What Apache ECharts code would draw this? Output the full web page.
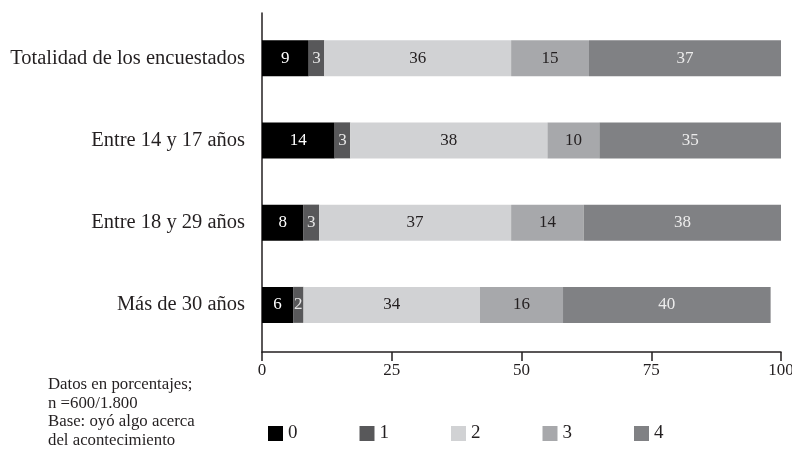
<!DOCTYPE html>
<html>
<head>
<meta charset="utf-8">
<script src="https://cdn.jsdelivr.net/npm/echarts@6/dist/echarts.min.js"></script>
<style>
  html, body { margin: 0; padding: 0; background: #fff; }
  #chart { width: 792px; height: 459px; }
  .note { position: absolute; left: 48px; top: 375px; font-family: 'Liberation Serif', 'DejaVu Serif', serif;
          font-size: 16.8px; line-height: 18.5px; color: #231f20; }
</style>
</head>
<body>
<div id="chart"></div>
<script>
// Age groups, top to bottom
const categories = ['Totalidad de los encuestados', 'Entre 14 y 17 años', 'Entre 18 y 29 años', 'Más de 30 años'];
// Answer levels shown in the legend
const levels = ['0', '1', '2', '3', '4'];
// Percentages per level, one value per age group
const level0 = [9, 14, 8, 6];
const level1 = [3, 3, 3, 2];
const level2 = [36, 38, 37, 34];
const level3 = [15, 10, 14, 16];
const level4 = [37, 35, 38, 40];
const xTicks = [0, 25, 50, 75, 100];

const seriesValues = [level0, level1, level2, level3, level4];
const fills = ['#000000', '#58585a', '#d1d2d4', '#a7a8ab', '#808184'];
const labelColors = ['#ffffff', '#e6e6e6', '#231f20', '#231f20', '#ececec'];
const FONT = '"Liberation Serif", "DejaVu Serif", serif';
const INK = '#231f20';

const chart = echarts.init(document.getElementById('chart'), null, { renderer: 'canvas' });

chart.setOption({
  animation: false,
  backgroundColor: '#ffffff',
  textStyle: { fontFamily: FONT },
  // grid 0 carries the axis frame, grid 1 the bars and category labels
  grid: [
    { left: 262, right: 11, top: 13, bottom: 107, outerBoundsMode: 'none', containLabel: false },
    { left: 262, right: 11, top: 17, bottom: 113, outerBoundsMode: 'none', containLabel: false }
  ],
  legend: {
    data: levels,
    left: 268,
    top: 424,
    padding: 0,
    itemWidth: 15,
    itemHeight: 15,
    itemGap: 62,
    icon: 'rect',
    textStyle: { fontFamily: FONT, fontSize: 19, color: INK }
  },
  xAxis: [
    {
      gridIndex: 0,
      type: 'value',
      min: 0,
      max: 100,
      interval: 25,
      axisLine: { show: true, lineStyle: { color: INK, width: 1.5 } },
      axisTick: { show: true, length: 9, lineStyle: { color: INK, width: 1.5 } },
      splitLine: { show: false },
      axisLabel: {
        fontFamily: FONT, fontSize: 17, color: INK, margin: 10,
        formatter: v => xTicks.includes(v) ? String(v) : ''
      }
    },
    {
      gridIndex: 1,
      type: 'value',
      min: 0,
      max: 100,
      show: false
    }
  ],
  yAxis: [
    {
      gridIndex: 0,
      type: 'value',
      min: 0,
      max: 1,
      axisLine: { show: true, lineStyle: { color: INK, width: 1.5 } },
      axisTick: { show: false },
      axisLabel: { show: false },
      splitLine: { show: false }
    },
    {
      gridIndex: 1,
      type: 'category',
      inverse: true,
      data: categories,
      axisLine: { show: false },
      axisTick: { show: false },
      axisLabel: { fontFamily: FONT, fontSize: 20.5, color: INK, margin: 17 }
    }
  ],
  series: seriesValues.map((vals, i) => ({
    name: levels[i],
    type: 'bar',
    stack: 'total',
    xAxisIndex: 1,
    yAxisIndex: 1,
    data: vals,
    barWidth: 36,
    itemStyle: { color: fills[i] },
    label: {
      show: true,
      position: 'inside',
      fontFamily: FONT,
      fontSize: 17,
      color: labelColors[i]
    }
  }))
});
</script>
<div class="note">Datos en porcentajes;<br>n =600/1.800<br>Base: oyó algo acerca<br>del acontecimiento</div>
</body>
</html>
